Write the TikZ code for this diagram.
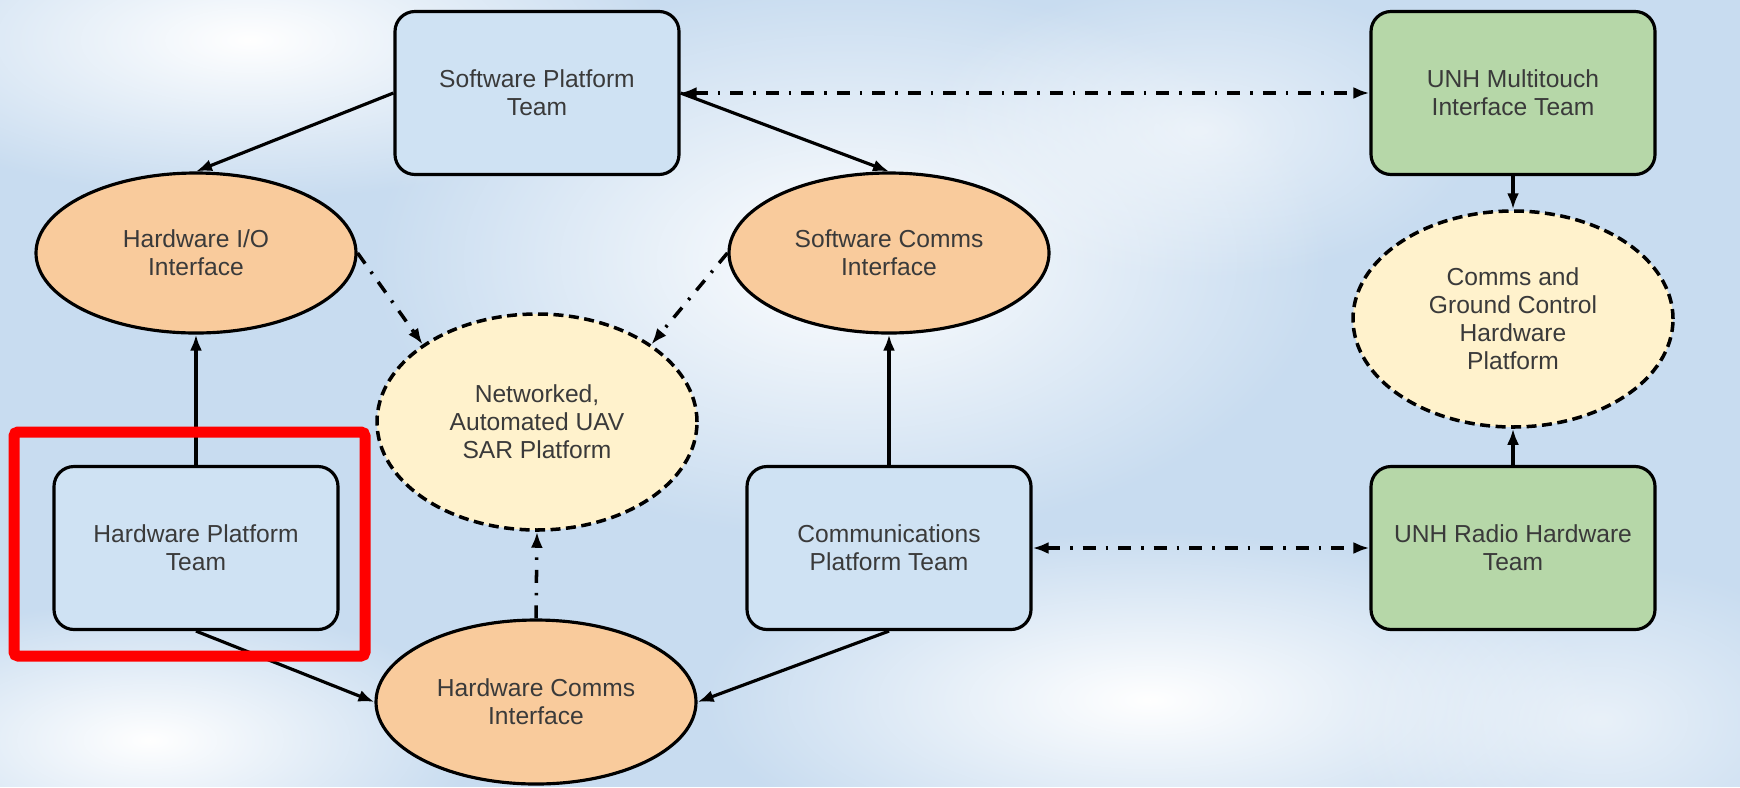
\documentclass[tikz,border=0pt]{standalone}
\usepackage{fontspec}
\setmainfont{Liberation Sans}
\usetikzlibrary{shapes.geometric,arrows.meta,fadings}
\definecolor{skyblue}{HTML}{C8DCF0}
\definecolor{teamblue}{HTML}{CFE2F3}
\definecolor{teamgreen}{HTML}{B6D7A8}
\definecolor{ifaceorange}{HTML}{F9CB9C}
\definecolor{platyellow}{HTML}{FFF2CC}
\definecolor{textgray}{HTML}{3A3A3A}
\definecolor{markred}{HTML}{FF0000}
\tikzfading[name=cloudfade, inner color=transparent!0, outer color=transparent!100]
\tikzset{
  team/.style={draw, line width=0.9pt, rounded corners=2mm, minimum width=28.4mm,
    minimum height=16.3mm, align=center, text=textgray, font=\fontsize{7}{8}\selectfont},
  iface/.style={ellipse, draw, line width=0.9pt, fill=ifaceorange, minimum width=32mm,
    minimum height=16mm, inner sep=0pt, align=center, text=textgray, font=\fontsize{7}{8}\selectfont},
  platform/.style={ellipse, draw, line width=1pt, dash pattern=on 1mm off 0.55mm,
    fill=platyellow, minimum width=32mm, minimum height=21.6mm, inner sep=0pt,
    align=center, text=textgray, font=\fontsize{7}{8}\selectfont},
  link/.style={line width=0.9pt},
  dashdotlink/.style={line width=1pt, dash pattern=on 1.3mm off 1mm on 0.25mm off 1mm}
}
\begin{document}
\begin{tikzpicture}[x=0.1mm, y=-0.1mm, >={Latex[length=1.6mm,width=1.2mm]}]
      \useasboundingbox (0,0) rectangle (1740,787);
      \fill[skyblue] (0,0) rectangle (1740,787);
      \begin{scope}
        \clip (0,0) rectangle (1740,787);
        \fill[white, path fading=cloudfade] (250,40) ellipse (420 and 160);
        \fill[white, path fading=cloudfade] (850,260) ellipse (480 and 280);
        \fill[white, path fading=cloudfade] (1150,700) ellipse (450 and 170);
        \fill[white, path fading=cloudfade] (150,740) ellipse (330 and 140);
        \fill[white, opacity=0.6, path fading=cloudfade] (1600,720) ellipse (260 and 160);
        \fill[white, opacity=0.6, path fading=cloudfade] (1200,130) ellipse (280 and 150);
      \end{scope}
      \draw
        (537,93) node[team, fill=teamblue] (swp){Software Platform\\Team}
        (1513,93) node[team, fill=teamgreen] (unhm){UNH Multitouch\\Interface Team}
        (196,253) node[iface] (hwio){Hardware I/O\\Interface}
        (889,253) node[iface] (swc){Software Comms\\Interface}
        (1513,319) node[platform] (cgc){Comms and\\Ground Control\\Hardware\\Platform}
        (537,422) node[platform] (net){Networked,\\Automated UAV\\SAR Platform}
        (196,548) node[team, fill=teamblue] (hwp){Hardware Platform\\Team}
        (889,548) node[team, fill=teamblue] (cp){Communications\\Platform Team}
        (1513,548) node[team, fill=teamgreen] (unhr){UNH Radio Hardware\\Team}
        (536,702) node[iface, minimum height=16.4mm] (hwc){Hardware Comms\\Interface};
      \begin{scope}[->, link]
        \draw (swp.west) to (hwio.north);
        \draw (swp.east) to (swc.north);
        \draw (hwp.north) to (hwio.south);
        \draw (hwp.south) to (hwc.west);
        \draw (cp.south) to (hwc.east);
        \draw (cp.north) to (swc.south);
        \draw (unhm.south) to (cgc.north);
        \draw (unhr.north) to (cgc.south);
      \end{scope}
      \begin{scope}[->, dashdotlink]
        \draw (hwio.east) to (net.north west);
        \draw (swc.west) to (net.north east);
        \draw (hwc.north) to (net.south);
        \draw[<->] (swp.east) to (unhm.west);
        \draw[<->] (cp.east) to (unhr.west);
      \end{scope}
      \draw[markred, line width=1.1mm, rounded corners=0.4mm] (14,432) rectangle (365,656);
    \end{tikzpicture}
\end{document}
